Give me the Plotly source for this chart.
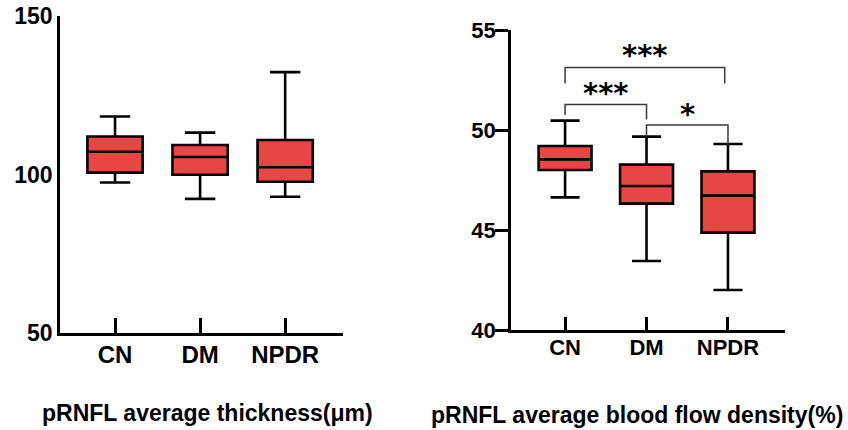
import plotly.graph_objects as go

# ---------------- data ----------------
categories = ["CN", "DM", "NPDR"]

# pRNFL average thickness (µm)
thick_lower = [97.5, 92.3, 93.0]
thick_q1 = [100.6, 99.9, 97.7]
thick_median = [107.2, 105.5, 102.3]
thick_q3 = [112.0, 109.3, 110.9]
thick_upper = [118.3, 113.2, 132.3]
thick_ticks = [50, 100, 150]

# pRNFL average blood flow density (%)
flow_lower = [46.63, 43.45, 42.0]
flow_q1 = [48.0, 46.32, 44.87]
flow_median = [48.53, 47.2, 46.72]
flow_q3 = [49.2, 48.27, 47.93]
flow_upper = [50.47, 49.67, 49.3]
flow_ticks = [40, 45, 50, 55]

# significance brackets: (group a, group b, label)
sig_pairs = [("CN", "DM", "***"), ("CN", "NPDR", "***"), ("DM", "NPDR", "*")]

titles = ["pRNFL average thickness(μm)", "pRNFL average blood flow density(%)"]

# ---------------- figure ----------------
W, H = 848, 430
FILL = "#E84545"
FONT = "Liberation Sans, Arial, sans-serif"


def px(x):
    return x / W


def py(y):
    return 1 - y / H


fig = go.Figure()

box_style = dict(
    fillcolor=FILL,
    line=dict(color="black", width=2.6),
    width=0.65,
    whiskerwidth=0.55,
    boxpoints=False,
    showlegend=False,
    hoverinfo="skip",
)

fig.add_trace(go.Box(
    x=categories, q1=thick_q1, median=thick_median, q3=thick_q3,
    lowerfence=thick_lower, upperfence=thick_upper,
    xaxis="x", yaxis="y", **box_style))

fig.add_trace(go.Box(
    x=categories, q1=flow_q1, median=flow_median, q3=flow_q3,
    lowerfence=flow_lower, upperfence=flow_upper,
    xaxis="x2", yaxis="y2", **box_style))

axis_common = dict(
    showline=True, linecolor="black", linewidth=2.6,
    showgrid=False, zeroline=False, mirror=False, automargin=False,
    ticklabeloverflow="allow",
)

fig.update_layout(
    width=W, height=H,
    margin=dict(l=0, r=0, t=0, b=0),
    paper_bgcolor="white", plot_bgcolor="white",
    font=dict(family=FONT, color="black"),
    xaxis=dict(
        domain=[px(60), px(343)], anchor="y", type="category",
        range=[-0.647, 2.68],
        ticks="inside", ticklen=15, tickwidth=2.6, tickcolor="black",
        tickfont=dict(size=24, weight="bold", family=FONT),
        ticklabelstandoff=-2,
        **axis_common),
    yaxis=dict(
        domain=[py(333), py(16)], anchor="x", range=[50, 150],
        tickvals=thick_ticks, ticks="",
        tickfont=dict(size=23, weight="bold", family=FONT),
        ticklabelstandoff=0,
        **axis_common),
    xaxis2=dict(
        domain=[px(511), px(785)], anchor="y2", type="category",
        range=[-0.664, 2.70],
        ticks="inside", ticklen=13, tickwidth=2.6, tickcolor="black",
        tickfont=dict(size=22, weight="bold", family=FONT),
        ticklabelstandoff=-4,
        **axis_common),
    yaxis2=dict(
        domain=[py(330), py(30)], anchor="x2", range=[40, 55],
        tickvals=flow_ticks, ticks="outside", ticklen=13, tickwidth=2.6,
        tickcolor="black",
        tickfont=dict(size=22, weight="bold", family=FONT),
        ticklabelstandoff=-5,
        **axis_common),
)

# significance brackets on right panel
idx = {c: i for i, c in enumerate(categories)}
# bracket geometry: (top level, left leg bottom, right leg bottom, label y)
bracket_geom = [
    (51.28, 50.75, 50.53, 52.17),
    (53.12, 52.33, 52.33, 54.04),
    (50.25, 49.67, 49.25, 51.09),
]
for (a, b, lab), (top, lb, rb, ly) in zip(sig_pairs, bracket_geom):
    xa, xb = idx[a], idx[b]
    if b == "NPDR" and a == "CN":
        xb = xb - 0.04
    fig.add_shape(
        type="path", xref="x2", yref="y2",
        path=f"M {xa},{lb} L {xa},{top} L {xb},{top} L {xb},{rb}",
        line=dict(color="#3a3a3a", width=1.5),
    )
    fig.add_annotation(
        x=(xa + xb) / 2, y=ly, xref="x2", yref="y2",
        text=lab, showarrow=False, yanchor="middle", xanchor="center",
        font=dict(family="DejaVu Sans", size=29, color="black", weight="bold"),
        yshift=-6,
    )

# bottom titles
fig.add_annotation(
    x=px(207.5), y=py(413), xref="paper", yref="paper",
    text=titles[0], showarrow=False, xanchor="center", yanchor="middle",
    font=dict(size=23, weight="bold", family=FONT))
fig.add_annotation(
    x=px(637), y=py(415), xref="paper", yref="paper",
    text=titles[1], showarrow=False, xanchor="center", yanchor="middle",
    font=dict(size=23, weight="bold", family=FONT))

# remove the default 8px page margin so the figure fills the window exactly
fig.write_html(
    "out.html",
    config={"displayModeBar": False},
    post_script="document.body.style.margin='0px';",
)
